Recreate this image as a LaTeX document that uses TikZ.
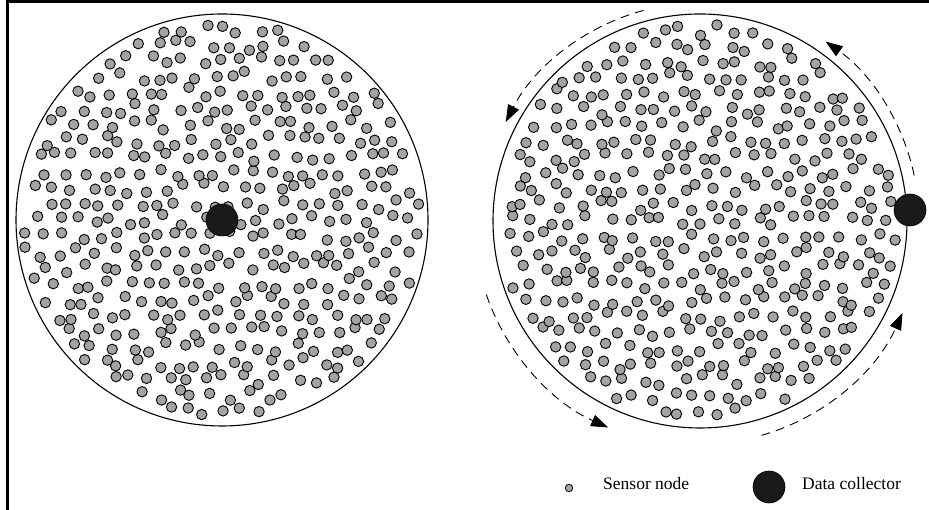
\documentclass[tikz,border=0pt]{standalone}
\usepackage{fontspec}
\setmainfont{Liberation Serif}
\usetikzlibrary{arrows.meta}
\definecolor{dotgray}{HTML}{A3A3A3}
\definecolor{collectorblack}{HTML}{1A1A1A}
\tikzset{
  sensordot/.style={fill=dotgray,draw=black,line width=0.9pt},
  fieldcircle/.style={draw=black,line width=1.1pt},
  collector/.style={circle,fill=collectorblack,draw=black,line width=0.6pt,minimum size=32pt,inner sep=0pt},
  legenddot/.style={circle,fill=dotgray,draw=black,line width=0.8pt,minimum size=7.5pt,inner sep=0pt},
  pathdash/.style={draw=black,line width=0.9pt,dash pattern=on 9pt off 6pt,-{Triangle[length=17pt,width=12pt]}},
  legendtext/.style={anchor=west,inner sep=0pt,font=\fontsize{17.5}{20}\selectfont}
}
\begin{document}
\begin{tikzpicture}[x=1pt,y=1pt]
\useasboundingbox (0,0) rectangle (929,510);
% frame (top and left)
\draw[line width=3pt] (7,0) -- (7,508) -- (929,508);
% field circles
\draw[fieldcircle] (222,290) circle[radius=206pt];
\draw[fieldcircle] (700,289) circle[radius=207pt];
% sensor nodes
\pgfmathsetseed{11}
\foreach \cx/\cy in {222/290,700/289}{
  \foreach \i in {-13,...,13}{
    \foreach \j in {-12,...,12}{
      \pgfmathsetmacro\px{\j*18.4 + abs(mod(\i,2))*9.2 + 5.5*rand}
      \pgfmathsetmacro\py{\i*15.9 + 5.5*rand}
      \pgfmathtruncatemacro\ok{((\px/100)^2+(\py/100)^2 < 3.97) ? 1 : 0}
      \ifnum\ok=1
        \draw[sensordot] (\cx+\px,\cy+\py) circle[radius=5.2pt];
      \fi
    }
  }
}
% data collectors
\node[collector] (dcleft) at (222,290) {};
\node[collector] (dcright) at (910,300) {};
% dashed movement arcs
\draw[pathdash] (700,289) ++(12:219pt) arc[start angle=12,end angle=55,radius=219pt];
\draw[pathdash] (700,289) ++(105:218pt) arc[start angle=105,end angle=153,radius=218pt];
\draw[pathdash] (700,289) ++(199:226pt) arc[start angle=199,end angle=246,radius=226pt];
\draw[pathdash] (700,289) ++(286:223pt) arc[start angle=286,end angle=336,radius=221pt];
% legend
\node[legenddot] (lgsensor) at (569,22) {};
\node[legendtext] (lgsensortext) at (603,26) {Sensor node};
\node[collector] (lgcollector) at (769,23) {};
\node[legendtext] (lgcollectortext) at (802,26) {Data collector};
\end{tikzpicture}
\end{document}
